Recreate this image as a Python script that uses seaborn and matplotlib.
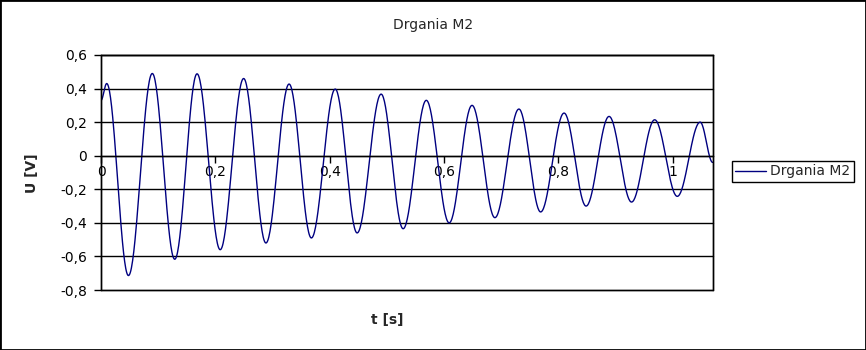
import numpy as np
import pandas as pd
import matplotlib
matplotlib.use("Agg")
import matplotlib.pyplot as plt
from matplotlib.ticker import FuncFormatter, MultipleLocator
from matplotlib.patches import Rectangle
import seaborn as sns

# Values: start point, successive extrema, end point
t_points = [0.000, 0.010, 0.048, 0.0897, 0.129, 0.168, 0.2085, 0.2495, 0.2885,
            0.329, 0.368, 0.4097, 0.448, 0.490, 0.5285, 0.569, 0.609, 0.649,
            0.689, 0.731, 0.769, 0.810, 0.8485, 0.8887, 0.928, 0.9685, 1.008,
            1.048, 1.070]
u_points = [0.33, 0.43, -0.714, 0.49, -0.617, 0.488, -0.56, 0.46, -0.52,
            0.427, -0.49, 0.397, -0.46, 0.367, -0.435, 0.33, -0.40, 0.30,
            -0.369, 0.278, -0.335, 0.254, -0.30, 0.234, -0.276, 0.214, -0.242,
            0.20, -0.04]
series_name = "Drgania M2"
title = "Drgania M2"
x_label = "t [s]"
y_label = "U [V]"
y_ticks = [-0.8, -0.6, -0.4, -0.2, 0.0, 0.2, 0.4, 0.6]
x_ticks = [0.0, 0.2, 0.4, 0.6, 0.8, 1.0]

# smooth rendering between the read extrema (half-cosine shaped strokes)
ts, us = [], []
for i in range(len(t_points) - 1):
    t0, t1 = t_points[i], t_points[i + 1]
    u0, u1 = u_points[i], u_points[i + 1]
    s = np.linspace(0, 1, 40, endpoint=(i == len(t_points) - 2))
    ts.extend(t0 + s * (t1 - t0))
    us.extend(u0 + (u1 - u0) * (1 - np.cos(np.pi * s)) / 2)
df = pd.DataFrame({"t": ts, "U": us, "series": series_name})

sns.set_theme(style="white")
plt.rcParams["font.family"] = ["DejaVu Sans"]
plt.rcParams["font.size"] = 10

fig = plt.figure(figsize=(8.66, 3.5), dpi=100)
ax = fig.add_axes([101 / 866, 60 / 350, 612 / 866, 235 / 350])

sns.lineplot(data=df, x="t", y="U", hue="series", palette=["#000080"],
             estimator=None, sort=False, linewidth=1.0, ax=ax)

ax.set_xlim(0, 1.0705)
ax.set_ylim(-0.8, 0.6)
ax.set_yticks(y_ticks)
ax.set_xticks(x_ticks)


def fmt(v, pos=None):
    v = round(v, 1)
    if abs(v) < 1e-9:
        return "0"
    return f"{v:g}".replace(".", ",")


ax.xaxis.set_major_formatter(FuncFormatter(fmt))
ax.yaxis.set_major_formatter(FuncFormatter(fmt))

ax.grid(False)
for y in y_ticks:
    ax.axhline(y, color="black", linewidth=1.0, zorder=1, clip_on=False)

ax.spines["bottom"].set_position(("data", 0))
ax.spines["bottom"].set_color("black")
ax.spines["bottom"].set_linewidth(1.0)
for side in ["top", "right", "left"]:
    ax.spines[side].set_color("black")
    ax.spines[side].set_linewidth(1.0)
ax.add_patch(Rectangle((0, 0), 1, 1, transform=ax.transAxes, fill=False,
                       edgecolor="black", linewidth=1.0, clip_on=False, zorder=3))

ax.tick_params(axis="y", direction="out", length=5, width=1, color="black",
               labelsize=10, labelcolor="black", pad=5, left=True)
ax.tick_params(axis="x", direction="out", length=5, width=1, color="black",
               labelsize=10, labelcolor="black", pad=2, bottom=True)
ax.set_xlabel("")
ax.set_ylabel("")

fig.text(0.5, 1 - 25 / 350, title, ha="center", va="center", fontsize=10)
fig.text(32 / 866, 1 - 173 / 350, y_label, ha="center", va="center",
         rotation=90, fontsize=10, fontweight="bold")
fig.text(387 / 866, 1 - 320 / 350, x_label, ha="center", va="center",
         fontsize=10, fontweight="bold")

handles, labels = ax.get_legend_handles_labels()
ax.legend(handles, labels, loc="center left",
          bbox_to_anchor=(732 / 866, 1 - 171.5 / 350),
          bbox_transform=fig.transFigure, frameon=True, fancybox=False,
          edgecolor="black", framealpha=1, borderpad=0.25, borderaxespad=0,
          handlelength=2.2, handletextpad=0.3, fontsize=10)
leg = ax.get_legend()
leg.get_frame().set_linewidth(1.0)

fig.patches.append(Rectangle((0, 0), 1, 1, transform=fig.transFigure,
                             fill=False, edgecolor="black", linewidth=2))

fig.savefig("out.png", dpi=100, facecolor="white")
